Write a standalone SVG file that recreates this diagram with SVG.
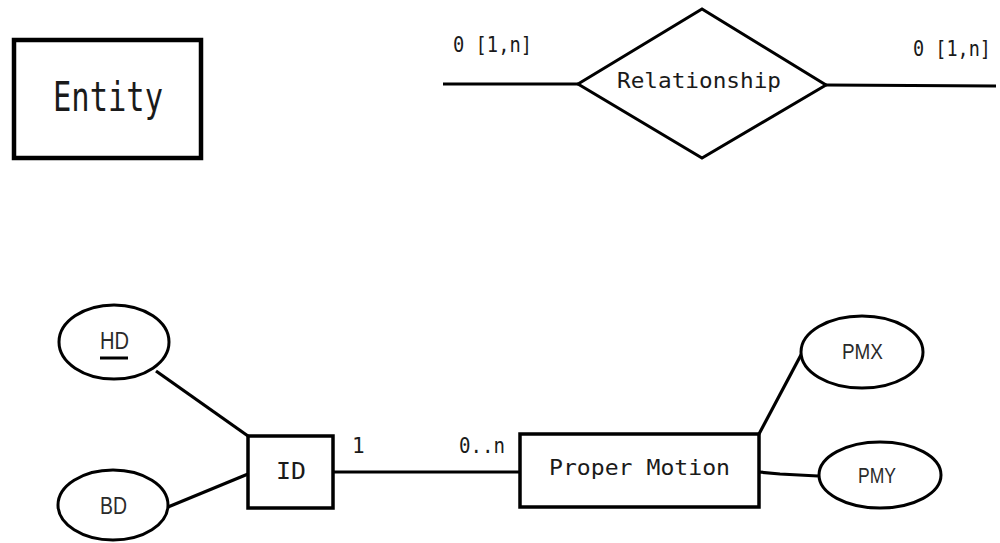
<svg xmlns="http://www.w3.org/2000/svg" width="1000" height="543" viewBox="0 0 1000 543">
<style>
.shape{fill:#fff;stroke:#000;stroke-width:3.5}
.conn{fill:none;stroke:#000;stroke-width:3.2}
.mono{font-family:"DejaVu Sans Mono","Liberation Mono",monospace;fill:#1a1a1a}
.sans{font-family:"Liberation Sans","DejaVu Sans",sans-serif;fill:#2a2a2a}
</style>
<rect width="1000" height="543" fill="#fff"/>
<g id="connectors">
<line class="conn" x1="443" y1="84" x2="578" y2="84"/>
<line class="conn" x1="826" y1="85" x2="996" y2="86"/>
<line class="conn" x1="156" y1="371" x2="248" y2="436"/>
<line class="conn" x1="168" y1="507" x2="248" y2="474"/>
<line class="conn" x1="333" y1="472" x2="520" y2="472"/>
<line class="conn" x1="759" y1="434" x2="802" y2="353"/>
<polyline class="conn" points="759,472 780,474 818,476"/>
</g>
<g id="entity">
<rect class="shape" x="14" y="40" width="187" height="118" style="stroke-width:4.5"/>
<text class="mono" x="53" y="111" font-size="40" textLength="110" lengthAdjust="spacingAndGlyphs">Entity</text>
</g>
<g id="relationship">
<polygon class="shape" points="578,84 702,9 826,85 702,158" style="stroke-width:3"/>
<text class="mono" x="617" y="88" font-size="21" textLength="164" lengthAdjust="spacingAndGlyphs">Relationship</text>
</g>
<g id="card-left">
<text class="mono" x="453" y="52" font-size="21" textLength="79" lengthAdjust="spacingAndGlyphs">0 [1,n]</text>
</g>
<g id="card-right">
<text class="mono" x="913" y="56" font-size="21" textLength="78" lengthAdjust="spacingAndGlyphs">0 [1,n]</text>
</g>
<g id="hd">
<ellipse class="shape" cx="114" cy="342" rx="55" ry="37" style="stroke-width:3"/>
<text class="sans" x="100" y="349" font-size="23" textLength="29" lengthAdjust="spacingAndGlyphs">HD</text>
<line x1="100" y1="358" x2="128" y2="358" stroke="#000" stroke-width="3"/>
</g>
<g id="bd">
<ellipse class="shape" cx="113" cy="505" rx="55" ry="35" style="stroke-width:3"/>
<text class="sans" x="100" y="514" font-size="23" textLength="27" lengthAdjust="spacingAndGlyphs">BD</text>
</g>
<g id="id">
<rect class="shape" x="248" y="436" width="85" height="72"/>
<text class="mono" x="276" y="479" font-size="23" textLength="30" lengthAdjust="spacingAndGlyphs">ID</text>
</g>
<g id="card-1">
<text class="mono" x="352" y="453" font-size="21">1</text>
</g>
<g id="card-0n">
<text class="mono" x="459" y="453" font-size="21" textLength="46" lengthAdjust="spacingAndGlyphs">0..n</text>
</g>
<g id="proper-motion">
<rect class="shape" x="520" y="434" width="239" height="73"/>
<text class="mono" x="549" y="475" font-size="22" textLength="181" lengthAdjust="spacingAndGlyphs">Proper Motion</text>
</g>
<g id="pmx">
<ellipse class="shape" cx="862" cy="352" rx="61" ry="36" style="stroke-width:3"/>
<text class="sans" x="842" y="359" font-size="22" textLength="41" lengthAdjust="spacingAndGlyphs">PMX</text>
</g>
<g id="pmy">
<ellipse class="shape" cx="880" cy="475" rx="61" ry="33" style="stroke-width:3"/>
<text class="sans" x="858" y="483" font-size="22" textLength="38" lengthAdjust="spacingAndGlyphs">PMY</text>
</g>
</svg>
